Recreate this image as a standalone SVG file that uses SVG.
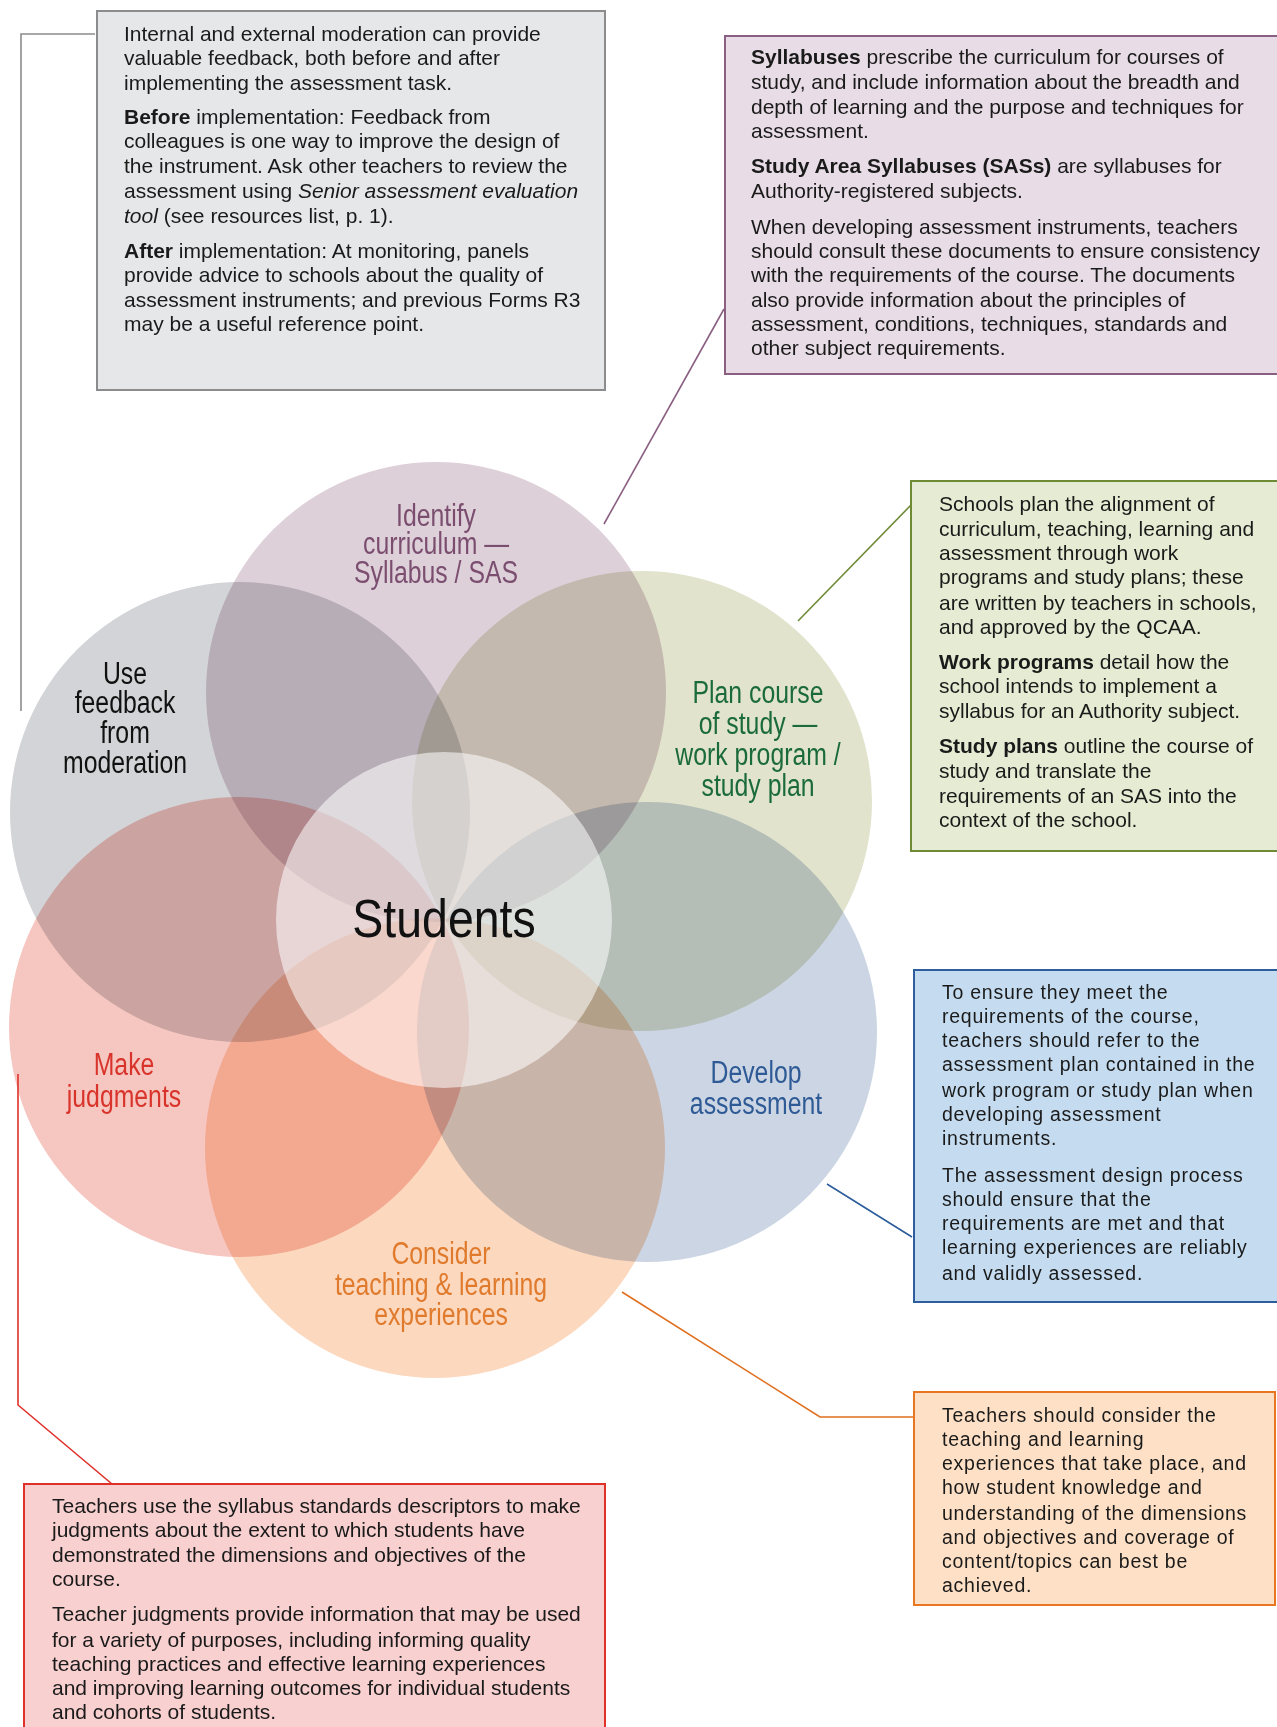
<svg xmlns="http://www.w3.org/2000/svg" width="1277" height="1727" viewBox="0 0 1277 1727">
<style>
.bt{font-family:"Liberation Sans",Arial,sans-serif;font-size:21px;fill:#1a1a1a}
.bw{font-family:"Liberation Sans",Arial,sans-serif;font-size:19.5px;letter-spacing:0.75px;fill:#1a1a1a}
.b{font-weight:bold}
.lab{font-family:"Liberation Sans",Arial,sans-serif;font-size:31px;text-anchor:middle}
.circ{mix-blend-mode:multiply}
.con{fill:none;stroke-width:1.6}
</style>
<rect width="1277" height="1727" fill="#ffffff"/>
<g id="circles">
  <g id="c-identify"><circle class="circ" cx="436" cy="692" r="230" fill="#ddd0d9"/></g>
  <g id="c-feedback"><circle class="circ" cx="240" cy="812" r="230" fill="#d3d4d7"/></g>
  <g id="c-plan"><circle class="circ" cx="642" cy="801" r="230" fill="#e1e3cd"/></g>
  <g id="c-develop"><circle class="circ" cx="647" cy="1032" r="230" fill="#ccd5e3"/></g>
  <g id="c-consider"><circle class="circ" cx="435" cy="1148" r="230" fill="#fcd8bf"/></g>
  <g id="c-judge"><circle class="circ" cx="239" cy="1027" r="230" fill="#f6c6c0"/></g>
  <g id="c-students"><circle cx="444" cy="920" r="168" fill="#ffffff" fill-opacity="0.55"/></g>
</g>
<g id="labels">
  <text class="lab" fill="#7b4e70" transform="translate(436,0) scale(0.8,1)"><tspan x="0" y="526">Identify</tspan><tspan x="0" y="554">curriculum —</tspan><tspan x="0" y="583">Syllabus / SAS</tspan></text>
  <text class="lab" fill="#111111" transform="translate(125,0) scale(0.8,1)"><tspan x="0" y="684">Use</tspan><tspan x="0" y="713">feedback</tspan><tspan x="0" y="743">from</tspan><tspan x="0" y="773">moderation</tspan></text>
  <text class="lab" fill="#1b6b3a" transform="translate(758,0) scale(0.8,1)"><tspan x="0" y="703">Plan course</tspan><tspan x="0" y="734">of study —</tspan><tspan x="0" y="765">work program /</tspan><tspan x="0" y="796">study plan</tspan></text>
  <text class="lab" fill="#111111" style="font-size:54px" transform="translate(444,0) scale(0.86,1)" x="0" y="937">Students</text>
  <text class="lab" fill="#d9342b" transform="translate(124,0) scale(0.8,1)"><tspan x="0" y="1075">Make</tspan><tspan x="0" y="1107">judgments</tspan></text>
  <text class="lab" fill="#2e5a96" transform="translate(756,0) scale(0.8,1)"><tspan x="0" y="1083">Develop</tspan><tspan x="0" y="1114">assessment</tspan></text>
  <text class="lab" fill="#e07a2c" transform="translate(441,0) scale(0.8,1)"><tspan x="0" y="1264">Consider</tspan><tspan x="0" y="1295">teaching &amp; learning</tspan><tspan x="0" y="1325">experiences</tspan></text>
</g>
<g id="connectors">
  <polyline class="con" stroke="#8c8c8c" points="95,34 21,34 21,711"/>
  <polyline class="con" stroke="#8a5f82" points="724,309 604,524"/>
  <polyline class="con" stroke="#6f8a35" points="911,505 798,621"/>
  <polyline class="con" stroke="#2d5d9c" points="912,1237 827,1184"/>
  <polyline class="con" stroke="#e07020" points="622,1292 820,1417 914,1417"/>
  <polyline class="con" stroke="#e0302a" points="18,1074 18,1405 112,1484"/>
</g>
<g id="box-moderation">
  <rect x="97" y="11" width="508" height="379" fill="#e6e7e8" stroke="#8c8c8c" stroke-width="2"/>
  <text class="bt"><tspan x="124" y="41">Internal and external moderation can provide</tspan><tspan x="124" y="65">valuable feedback, both before and after</tspan><tspan x="124" y="90">implementing the assessment task.</tspan><tspan x="124" y="124"><tspan class="b">Before</tspan> implementation: Feedback from</tspan><tspan x="124" y="148">colleagues is one way to improve the design of</tspan><tspan x="124" y="173">the instrument. Ask other teachers to review the</tspan><tspan x="124" y="198">assessment using <tspan font-style="italic">Senior assessment evaluation</tspan></tspan><tspan x="124" y="223"><tspan font-style="italic">tool</tspan> (see resources list, p. 1).</tspan><tspan x="124" y="258"><tspan class="b">After</tspan> implementation: At monitoring, panels</tspan><tspan x="124" y="282">provide advice to schools about the quality of</tspan><tspan x="124" y="307">assessment instruments; and previous Forms R3</tspan><tspan x="124" y="331">may be a useful reference point.</tspan></text>
</g>
<g id="box-syllabus">
  <rect x="725" y="36" width="560" height="338" fill="#e8dde6" stroke="#8a5f82" stroke-width="2"/>
  <text class="bt"><tspan x="751" y="64"><tspan class="b">Syllabuses</tspan> prescribe the curriculum for courses of</tspan><tspan x="751" y="89">study, and include information about the breadth and</tspan><tspan x="751" y="114">depth of learning and the purpose and techniques for</tspan><tspan x="751" y="138">assessment.</tspan><tspan x="751" y="173"><tspan class="b">Study Area Syllabuses (SASs)</tspan> are syllabuses for</tspan><tspan x="751" y="198">Authority-registered subjects.</tspan><tspan x="751" y="234">When developing assessment instruments, teachers</tspan><tspan x="751" y="258">should consult these documents to ensure consistency</tspan><tspan x="751" y="282">with the requirements of the course. The documents</tspan><tspan x="751" y="307">also provide information about the principles of</tspan><tspan x="751" y="331">assessment, conditions, techniques, standards and</tspan><tspan x="751" y="355">other subject requirements.</tspan></text>
</g>
<g id="box-plan">
  <rect x="911" y="481" width="374" height="370" fill="#e6ecd3" stroke="#6f8a35" stroke-width="2"/>
  <text class="bt"><tspan x="939" y="511">Schools plan the alignment of</tspan><tspan x="939" y="536">curriculum, teaching, learning and</tspan><tspan x="939" y="560">assessment through work</tspan><tspan x="939" y="584">programs and study plans; these</tspan><tspan x="939" y="610">are written by teachers in schools,</tspan><tspan x="939" y="634">and approved by the QCAA.</tspan><tspan x="939" y="669"><tspan class="b">Work programs</tspan> detail how the</tspan><tspan x="939" y="693">school intends to implement a</tspan><tspan x="939" y="718">syllabus for an Authority subject.</tspan><tspan x="939" y="753"><tspan class="b">Study plans</tspan> outline the course of</tspan><tspan x="939" y="778">study and translate the</tspan><tspan x="939" y="803">requirements of an SAS into the</tspan><tspan x="939" y="827">context of the school.</tspan></text>
</g>
<g id="box-develop">
  <rect x="914" y="970" width="371" height="332" fill="#c5dcf0" stroke="#2d5d9c" stroke-width="2"/>
  <text class="bw"><tspan x="942" y="999">To ensure they meet the</tspan><tspan x="942" y="1023">requirements of the course,</tspan><tspan x="942" y="1047">teachers should refer to the</tspan><tspan x="942" y="1071">assessment plan contained in the</tspan><tspan x="942" y="1097">work program or study plan when</tspan><tspan x="942" y="1121">developing assessment</tspan><tspan x="942" y="1145">instruments.</tspan><tspan x="942" y="1182">The assessment design process</tspan><tspan x="942" y="1206">should ensure that the</tspan><tspan x="942" y="1230">requirements are met and that</tspan><tspan x="942" y="1254">learning experiences are reliably</tspan><tspan x="942" y="1280">and validly assessed.</tspan></text>
</g>
<g id="box-consider">
  <rect x="914" y="1392" width="361" height="213" fill="#fde0c5" stroke="#e87722" stroke-width="2"/>
  <text class="bw"><tspan x="942" y="1422">Teachers should consider the</tspan><tspan x="942" y="1446">teaching and learning</tspan><tspan x="942" y="1470">experiences that take place, and</tspan><tspan x="942" y="1494">how student knowledge and</tspan><tspan x="942" y="1520">understanding of the dimensions</tspan><tspan x="942" y="1544">and objectives and coverage of</tspan><tspan x="942" y="1568">content/topics can best be</tspan><tspan x="942" y="1592">achieved.</tspan></text>
</g>
<g id="box-judge">
  <rect x="24" y="1484" width="581" height="260" fill="#f7d0cf" stroke="#e0302a" stroke-width="2"/>
  <text class="bt"><tspan x="52" y="1513">Teachers use the syllabus standards descriptors to make</tspan><tspan x="52" y="1537">judgments about the extent to which students have</tspan><tspan x="52" y="1562">demonstrated the dimensions and objectives of the</tspan><tspan x="52" y="1586">course.</tspan><tspan x="52" y="1621">Teacher judgments provide information that may be used</tspan><tspan x="52" y="1647">for a variety of purposes, including informing quality</tspan><tspan x="52" y="1671">teaching practices and effective learning experiences</tspan><tspan x="52" y="1695">and improving learning outcomes for individual students</tspan><tspan x="52" y="1719">and cohorts of students.</tspan></text>
</g>
</svg>
